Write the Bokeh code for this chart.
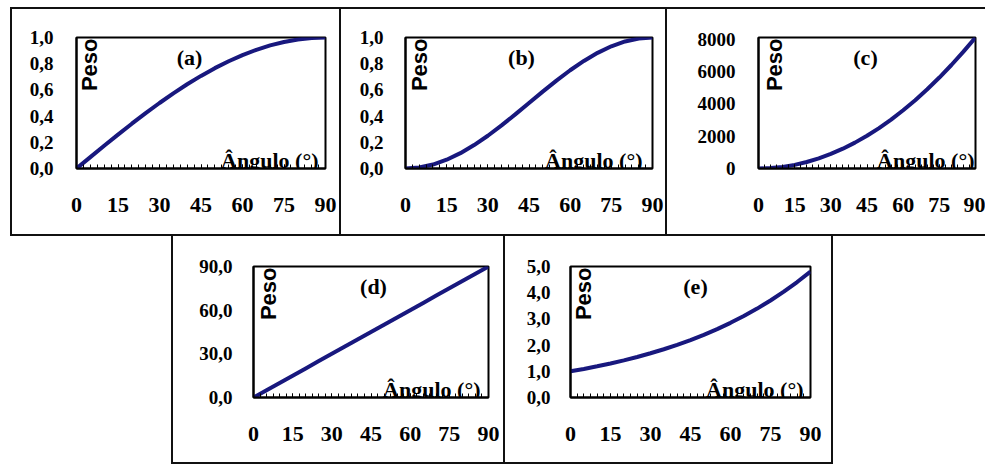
import math
from bokeh.plotting import figure
from bokeh.models import Range1d, FixedTicker, Label, Spacer
from bokeh.layouts import column, row
from bokeh.embed import file_html
from bokeh.resources import INLINE

# ---------------- data ----------------
angles = [0, 5, 10, 15, 20, 25, 30, 35, 40, 45, 50, 55, 60, 65, 70, 75, 80, 85, 90]
peso_a = [0.0, 0.087, 0.174, 0.259, 0.342, 0.423, 0.50, 0.574, 0.643, 0.707,
          0.766, 0.819, 0.866, 0.906, 0.940, 0.966, 0.985, 0.996, 1.0]
peso_b = [0.0, 0.008, 0.030, 0.067, 0.117, 0.179, 0.25, 0.329, 0.413, 0.50,
          0.587, 0.671, 0.75, 0.821, 0.883, 0.933, 0.970, 0.992, 1.0]
peso_c = [0, 25, 100, 225, 400, 625, 900, 1225, 1600, 2025, 2500, 3025, 3600,
          4225, 4900, 5625, 6400, 7225, 8100]
peso_d = [0, 5, 10, 15, 20, 25, 30, 35, 40, 45, 50, 55, 60, 65, 70, 75, 80, 85, 90]
peso_e = [1.0, 1.091, 1.191, 1.300, 1.418, 1.547, 1.688, 1.842, 2.010, 2.193,
          2.393, 2.612, 2.850, 3.110, 3.393, 3.703, 4.040, 4.408, 4.810]

x_ticks = [0, 15, 30, 45, 60, 75, 90]
x_labels = ["0", "15", "30", "45", "60", "75", "90"]
x_minor = [i * 2.5 for i in range(37)]

yt_ab = [0.0, 0.2, 0.4, 0.6, 0.8, 1.0]
yl_ab = ["0,0", "0,2", "0,4", "0,6", "0,8", "1,0"]
yt_c = [0, 2000, 4000, 6000, 8000]
yl_c = ["0", "2000", "4000", "6000", "8000"]
yt_d = [0, 30, 60, 90]
yl_d = ["0,0", "30,0", "60,0", "90,0"]
yt_e = [0, 1, 2, 3, 4, 5]
yl_e = ["0,0", "1,0", "2,0", "3,0", "4,0", "5,0"]

tags = ["(a)", "(b)", "(c)", "(d)", "(e)"]
y_title = "Peso"
x_title = "Ângulo (°)"

CURVE = "#18187e"
SERIF = "Liberation Serif"
SANS = "Liberation Sans"
LINE = {"background-color": "#111"}


def panel(w, h, left, right, top, fh, ys, y_end, yt, yl, tag,
          ystand, peso_dx, tag_dx, ang_dx):
    bottom = h - top - fh
    fw = w - left - right
    p = figure(width=w, height=h, x_range=Range1d(0, 90), y_range=Range1d(0, y_end),
               output_backend="svg", toolbar_location=None,
               min_border_left=left, min_border_right=right,
               min_border_top=top, min_border_bottom=bottom,
               background_fill_color="white", border_fill_color="white")
    p.grid.visible = False
    p.outline_line_color = "black"
    p.outline_line_width = 2

    xa = p.xaxis[0]
    xa.ticker = FixedTicker(ticks=x_ticks, minor_ticks=x_minor)
    xa.major_label_overrides = dict(zip(x_ticks, x_labels))
    xa.major_tick_in = 4
    xa.major_tick_out = 0
    xa.minor_tick_in = 4
    xa.minor_tick_out = 0
    xa.major_tick_line_color = "black"
    xa.minor_tick_line_color = "black"
    xa.axis_line_color = "black"
    xa.axis_line_width = 2
    xa.major_label_standoff = 29
    xa.major_label_text_font = SERIF
    xa.major_label_text_font_style = "bold"
    xa.major_label_text_font_size = "22px"
    xa.major_label_text_color = "black"

    ya = p.yaxis[0]
    ya.ticker = FixedTicker(ticks=yt, minor_ticks=[])
    ya.major_label_overrides = dict(zip(yt, yl))
    ya.major_tick_in = 0
    ya.major_tick_out = 0
    ya.minor_tick_in = 0
    ya.minor_tick_out = 0
    ya.axis_line_color = "black"
    ya.axis_line_width = 2
    ya.major_label_standoff = ystand
    ya.major_label_text_font = SERIF
    ya.major_label_text_font_style = "bold"
    ya.major_label_text_font_size = "19px"
    ya.major_label_text_color = "black"

    p.line(angles, ys, line_color=CURVE, line_width=4)

    dx = 90.0 / fw
    dy = y_end / fh
    p.add_layout(Label(x=peso_dx * dx, y=y_end - 1 * dy, text=y_title, angle=math.pi / 2,
                       text_align="right", text_baseline="top", text_font=SANS,
                       text_font_style="bold", text_font_size="22px", text_color="black"))
    p.add_layout(Label(x=tag_dx * dx, y=y_end - 20 * dy, text=tag,
                       text_align="center", text_baseline="middle", text_font=SERIF,
                       text_font_style="bold", text_font_size="22px", text_color="black"))
    p.add_layout(Label(x=90 - ang_dx * dx, y=8 * dy, text=x_title,
                       text_align="right", text_baseline="alphabetic", text_font=SERIF,
                       text_font_style="bold", text_font_size="22px", text_color="black"))
    return p


def hline(w):
    return Spacer(width=w, height=2, styles=LINE)


def vline(h):
    return Spacer(width=2, height=h, styles=LINE)


pa = panel(327, 225, 64, 14, 28, 131, peso_a, 1.0, yt_ab, yl_ab, tags[0], 23, 0, 113, 7)
pb = panel(324, 225, 64, 13, 28, 131, peso_b, 1.0, yt_ab, yl_ab, tags[1], 22, 1, 116, 10)
pc = panel(318, 225, 91, 10, 28, 131, peso_c, 8100, yt_c, yl_c, tags[2], 23, 3, 107, 1)
pd = panel(330, 226, 80, 15, 30, 131, peso_d, 90, yt_d, yl_d, tags[3], 21, 2, 120, 8)
pe = panel(326, 226, 65, 21, 30, 131, peso_e, 5.0, yt_e, yl_e, tags[4], 20, 0, 125, 7)

layout = column(
    Spacer(width=985, height=7),
    row(Spacer(width=10, height=2), hline(975)),
    row(Spacer(width=10, height=225), vline(225), pa, vline(225), pb, vline(225), pc),
    row(Spacer(width=10, height=2), hline(975)),
    row(Spacer(width=171, height=226), vline(226), pd, vline(226), pe, vline(226)),
    row(Spacer(width=171, height=2), hline(662)),
)

open("out.html", "w").write(file_html(layout, INLINE))
